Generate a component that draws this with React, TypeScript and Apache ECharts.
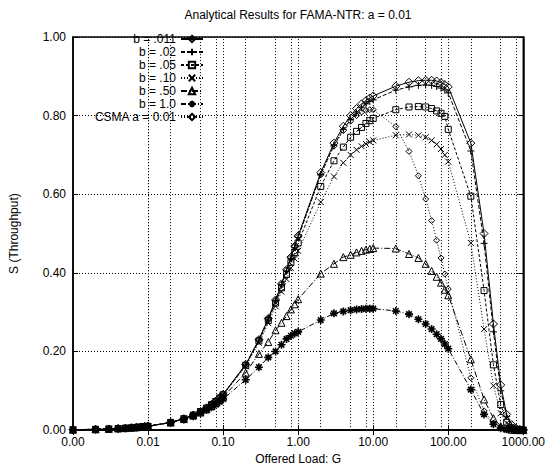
import React, { useEffect, useRef } from "react";
import * as echarts from "echarts";

// Offered load G (x values shared by all curves)
const G = [
  0.001, 0.002, 0.003, 0.004, 0.005, 0.006, 0.007, 0.008, 0.009,
  0.01, 0.02, 0.03, 0.04, 0.05, 0.06, 0.07, 0.08, 0.09,
  0.1, 0.2, 0.3, 0.4, 0.5, 0.6, 0.7, 0.8, 0.9,
  1, 2, 3, 4, 5, 6, 7, 8, 9,
  10, 20, 30, 40, 50, 60, 70, 80, 90,
  100, 200, 300, 400, 500, 600, 700, 800, 900,
  1000,
];

const S_b011 = [
  0.001, 0.002, 0.003, 0.004, 0.005, 0.006, 0.007, 0.008, 0.009,
  0.0099, 0.0196, 0.0291, 0.0384, 0.0476, 0.0565, 0.0653, 0.074, 0.0824,
  0.091, 0.167, 0.23, 0.284, 0.331, 0.372, 0.408, 0.44, 0.468,
  0.494, 0.655, 0.73, 0.773, 0.8, 0.818, 0.83, 0.838, 0.845,
  0.85, 0.875, 0.885, 0.889, 0.89, 0.89, 0.888, 0.884, 0.879,
  0.873, 0.73, 0.5, 0.27, 0.115, 0.04, 0.014, 0.005, 0.002,
  0.0005,
];

const S_b02 = [
  0.001, 0.002, 0.003, 0.004, 0.005, 0.006, 0.007, 0.008, 0.009,
  0.0099, 0.0196, 0.029, 0.0383, 0.0475, 0.0563, 0.065, 0.0737, 0.082,
  0.091, 0.166, 0.229, 0.283, 0.329, 0.37, 0.405, 0.437, 0.464,
  0.49, 0.65, 0.725, 0.765, 0.79, 0.807, 0.82, 0.83, 0.836,
  0.84, 0.865, 0.873, 0.877, 0.878, 0.877, 0.874, 0.87, 0.865,
  0.858, 0.71, 0.475, 0.25, 0.1, 0.035, 0.011, 0.004, 0.001,
  0.0003,
];

const S_b05 = [
  0.001, 0.002, 0.003, 0.004, 0.005, 0.006, 0.007, 0.008, 0.009,
  0.0099, 0.0195, 0.029, 0.0382, 0.0473, 0.056, 0.0647, 0.073, 0.0815,
  0.09, 0.165, 0.227, 0.279, 0.323, 0.362, 0.396, 0.426, 0.452,
  0.476, 0.62, 0.685, 0.72, 0.745, 0.76, 0.77, 0.78, 0.787,
  0.793, 0.815, 0.822, 0.823, 0.822, 0.818, 0.812, 0.806, 0.798,
  0.765, 0.595, 0.355, 0.166, 0.065, 0.02, 0.006, 0.002, 0.001,
  0.0002,
];

const S_b10 = [
  0.001, 0.002, 0.003, 0.004, 0.005, 0.006, 0.007, 0.008, 0.009,
  0.0099, 0.0195, 0.0289, 0.038, 0.047, 0.0557, 0.0643, 0.0726, 0.081,
  0.089, 0.162, 0.222, 0.272, 0.315, 0.352, 0.384, 0.412, 0.436,
  0.456, 0.58, 0.645, 0.68, 0.7, 0.713, 0.722, 0.728, 0.733,
  0.737, 0.75, 0.752, 0.75, 0.745, 0.737, 0.727, 0.715, 0.7,
  0.683, 0.476, 0.257, 0.113, 0.043, 0.018, 0.006, 0.002, 0.001,
  0,
];

const S_b50 = [
  0.001, 0.002, 0.003, 0.004, 0.005, 0.006, 0.007, 0.008, 0.009,
  0.0098, 0.0192, 0.028, 0.037, 0.045, 0.053, 0.061, 0.069, 0.077,
  0.084, 0.146, 0.194, 0.224, 0.254, 0.273, 0.29, 0.307, 0.32,
  0.333, 0.398, 0.423, 0.44, 0.446, 0.452, 0.456, 0.459, 0.461,
  0.463, 0.462, 0.448, 0.438, 0.423, 0.405, 0.39, 0.375, 0.357,
  0.343, 0.18, 0.078, 0.03, 0.01, 0.004, 0.001, 0, 0,
  0,
];

const S_b100 = [
  0.001, 0.002, 0.003, 0.004, 0.005, 0.006, 0.007, 0.008, 0.009,
  0.0097, 0.019, 0.027, 0.035, 0.043, 0.051, 0.058, 0.065, 0.072,
  0.079, 0.128, 0.16, 0.185, 0.2, 0.217, 0.232, 0.24, 0.246,
  0.25, 0.28, 0.297, 0.302, 0.305, 0.307, 0.308, 0.309, 0.309,
  0.309, 0.303, 0.295, 0.282, 0.27, 0.257, 0.244, 0.232, 0.219,
  0.207, 0.103, 0.04, 0.015, 0.005, 0.002, 0.001, 0, 0,
  0,
];

const S_csma = [
  0.001, 0.002, 0.003, 0.004, 0.005, 0.006, 0.007, 0.008, 0.009,
  0.0099, 0.0196, 0.0291, 0.0384, 0.0476, 0.0565, 0.0653, 0.074, 0.0824,
  0.0907, 0.166, 0.2296, 0.2838, 0.3306, 0.3714, 0.4072, 0.4389, 0.4672,
  0.4925, 0.649, 0.722, 0.762, 0.786, 0.8, 0.809, 0.813, 0.815,
  0.815, 0.772, 0.709, 0.647, 0.588, 0.533, 0.483, 0.438, 0.397,
  0.359, 0.133, 0.049, 0.018, 0.0066, 0.0024, 0.0009, 0.0003, 0.0001,
  0,
];

const SERIES_NAMES = [
  "b = .011",
  "b = .02",
  "b = .05",
  "b = .10",
  "b = .50",
  "b = 1.0",
  "CSMA a = 0.01",
];

// vertical dotted grid lines (1, 2, 5, 8 per decade)
const GRID_G = [
  0.002, 0.005, 0.008, 0.01, 0.02, 0.05, 0.08, 0.1, 0.2, 0.5, 0.8, 1,
  2, 5, 8, 10, 20, 50, 80, 100, 200, 500, 800,
];

const TITLE = "Analytical Results for FAMA-NTR: a = 0.01";
const X_NAME = "Offered Load: G";
const Y_NAME = "S (Throughput)";

const FONT = "'Liberation Sans', Arial, sans-serif";

const PLUS = "path://M0,5L10,5M5,0L5,10";
const CROSS = "path://M0,0L10,10M10,0L0,10";
const STAR = "path://M0,5L10,5M5,0L5,10M1.5,1.5L8.5,8.5M8.5,1.5L1.5,8.5";

export default function App() {
  const ref = useRef<HTMLDivElement>(null);

  useEffect(() => {
    if (!ref.current) return;
    const chart = echarts.init(ref.current, null, { renderer: "svg" });

    const values = [S_b011, S_b02, S_b05, S_b10, S_b50, S_b100, S_csma];
    const styles: any[] = [
      { symbol: "diamond", size: 8, open: true, dash: "solid" },
      { symbol: PLUS, size: 7, open: false, dash: [4, 2] },
      { symbol: "rect", size: 6, open: true, dash: [3, 2] },
      { symbol: CROSS, size: 6, open: false, dash: [1, 2] },
      { symbol: "triangle", size: 7, open: true, dash: [6, 2, 1, 2] },
      { symbol: STAR, size: 8, open: false, dash: [5, 2, 1, 2], bw: 1.6 },
      { symbol: "diamond", size: 6, open: true, dash: [1, 2] },
    ];

    const series: any[] = values.map((vals, k) => {
      const st = styles[k];
      return {
        name: SERIES_NAMES[k],
        type: "line",
        data: G.map((g, i) => [g, vals[i]]),
        symbol: st.symbol,
        symbolSize: st.size,
        showSymbol: true,
        lineStyle: { color: "#000", width: 1, type: st.dash },
        itemStyle: st.open
          ? { color: "rgba(255,255,255,0)", borderColor: "#000", borderWidth: 1 }
          : { color: "#000", borderColor: "#000", borderWidth: st.bw || 1 },
        z: 3,
      };
    });

    series[0].markLine = {
      silent: true,
      symbol: "none",
      label: { show: false },
      lineStyle: { color: "#000", type: [1, 2], width: 1 },
      data: GRID_G.map((v) => ({ xAxis: v })),
      z: 1,
    };

    const legends = SERIES_NAMES.map((name, i) => ({
      data: [name],
      right: 548 - 204,
      top: 33 + 13 * i,
      orient: "horizontal",
      align: "right",
      padding: 0,
      itemGap: 0,
      itemWidth: 22,
      itemHeight: 8,
      selectedMode: false,
      textStyle: { fontSize: 12, fontFamily: FONT, color: "#000" },
    }));

    const axisFont = { fontSize: 12, fontFamily: FONT, color: "#000" };

    chart.setOption({
      animation: false,
      backgroundColor: "#fff",
      title: {
        text: TITLE,
        left: 298,
        top: 9,
        padding: 0,
        textAlign: "center",
        textStyle: { fontSize: 12, fontWeight: "normal", fontFamily: FONT, color: "#000" },
      },
      legend: legends,
      grid: {
        left: 70,
        right: 21,
        top: 37,
        bottom: 35,
        show: true,
        borderColor: "#000",
        borderWidth: 1.5,
        backgroundColor: "transparent",
      },
      xAxis: [
        {
          type: "log",
          logBase: 10,
          min: 0.001,
          max: 1000,
          name: X_NAME,
          nameLocation: "middle",
          nameGap: 22,
          nameTextStyle: axisFont,
          axisLine: { lineStyle: { color: "#000", width: 1.5 } },
          axisTick: { inside: true, length: 5, lineStyle: { color: "#000" } },
          axisLabel: { ...axisFont, margin: 6, formatter: (v: number) => v.toFixed(2) },
          splitLine: { show: false },
        },
        {
          type: "log",
          logBase: 10,
          min: 0.001,
          max: 1000,
          position: "top",
          axisLine: { lineStyle: { color: "#000", width: 1.5 } },
          axisTick: { inside: true, length: 5, lineStyle: { color: "#000" } },
          axisLabel: { show: false },
          splitLine: { show: false },
        },
      ],
      yAxis: [
        {
          type: "value",
          min: 0,
          max: 1,
          interval: 0.2,
          name: Y_NAME,
          nameLocation: "middle",
          nameGap: 53,
          nameRotate: 90,
          nameTextStyle: axisFont,
          axisLine: { show: true, lineStyle: { color: "#000", width: 1.5 } },
          axisTick: { show: true, inside: true, length: 5, lineStyle: { color: "#000" } },
          axisLabel: { ...axisFont, margin: 7, formatter: (v: number) => v.toFixed(2) },
          splitLine: { show: true, lineStyle: { color: "#000", type: [1, 2], width: 1 } },
        },
        {
          type: "value",
          min: 0,
          max: 1,
          interval: 0.2,
          position: "right",
          axisLine: { show: true, lineStyle: { color: "#000", width: 1.5 } },
          axisTick: { show: true, inside: true, length: 5, lineStyle: { color: "#000" } },
          axisLabel: { show: false },
          splitLine: { show: false },
        },
      ],
      series,
    });

    return () => chart.dispose();
  }, []);

  return (
    <div
      ref={ref}
      style={{ width: 548, height: 470, position: "absolute", left: 0, top: 0 }}
    />
  );
}
